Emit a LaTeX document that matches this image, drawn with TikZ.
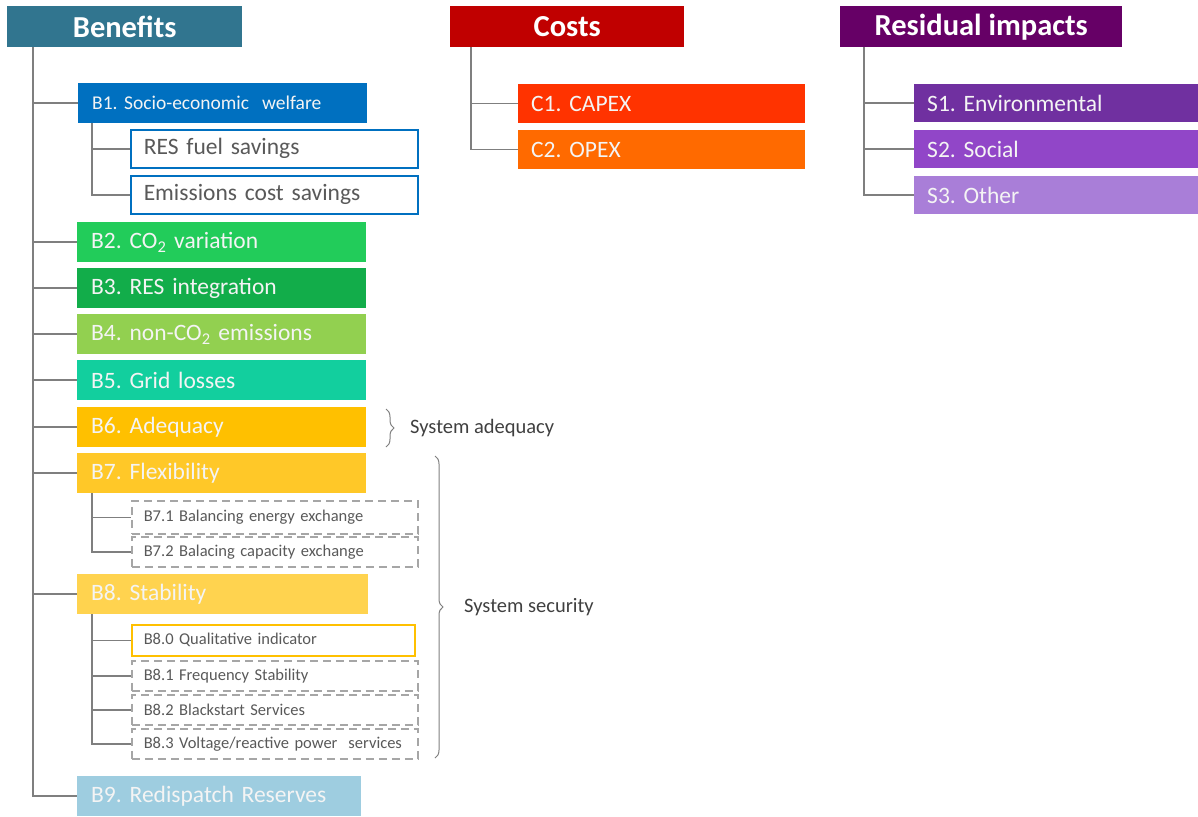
\documentclass[tikz,border=0pt]{standalone}
\usepackage{fontspec}
\setmainfont{Carlito}
\usetikzlibrary{decorations.pathreplacing}
\frenchspacing
\definecolor{hben}{HTML}{31758F}
\definecolor{hcost}{HTML}{C00000}
\definecolor{hres}{HTML}{660066}
\definecolor{cbone}{HTML}{0070C0}
\definecolor{cbtwo}{HTML}{22CC5A}
\definecolor{cbthree}{HTML}{12AD4A}
\definecolor{cbfour}{HTML}{92D050}
\definecolor{cbfive}{HTML}{12CF9E}
\definecolor{cbsix}{HTML}{FFC000}
\definecolor{cbseven}{HTML}{FFC828}
\definecolor{cbeight}{HTML}{FFD34F}
\definecolor{cbnine}{HTML}{9ECDE0}
\definecolor{ccone}{HTML}{FF3300}
\definecolor{cctwo}{HTML}{FF6A00}
\definecolor{csone}{HTML}{7030A0}
\definecolor{cstwo}{HTML}{9146C8}
\definecolor{csthree}{HTML}{A97ED8}
\definecolor{linegray}{HTML}{7F7F7F}
\definecolor{dashgray}{HTML}{A6A6A6}
\definecolor{txtgray}{HTML}{595959}
\definecolor{offwhite}{HTML}{F4F4F4}
\tikzset{
  hdr/.style={anchor=north west, inner sep=0pt, minimum height=41pt, text=white,
    font=\fontsize{30.5}{32}\selectfont\bfseries},
  cbox/.style={anchor=north west, inner xsep=14pt, inner ysep=0pt, minimum height=40pt,
    align=left, text=offwhite, font=\fontsize{23.5}{25}\selectfont},
  wbox/.style={anchor=north west, inner xsep=13pt, inner ysep=0pt, fill=white,
    align=left, line width=1.5pt, text=txtgray, font=\fontsize{23.5}{25}\selectfont},
  dbox/.style={anchor=north west, inner xsep=12pt, inner ysep=0pt, fill=white,
    align=left, draw=dashgray, line width=1.5pt, dash pattern=on 8pt off 5pt,
    text=txtgray, font=\fontsize{16.5}{18}\selectfont},
  tree/.style={draw=linegray, line width=1.5pt},
  brc/.style={draw=linegray, line width=1pt, decorate,
    decoration={brace, amplitude=8pt}},
  lbl/.style={anchor=west, inner sep=0pt, text=black!75, font=\fontsize{20.5}{22}\selectfont}
}
\begin{document}
\begin{tikzpicture}[x=1pt,y=-1pt]
\useasboundingbox (0,0) rectangle (1198,816);
% headers
\node[hdr, fill=hben, minimum width=235pt] (ben) at (7,6) {Benefits};
\node[hdr, fill=hcost, minimum width=234pt] (cost) at (450,6) {Costs};
\node[hdr, fill=hres, minimum width=282pt] (res) at (840,6) {Residual impacts};
% benefits
\node[cbox, fill=cbone, text width=261pt, font=\fontsize{19.5}{21}\selectfont] (b1) at (78,83) {B1. Socio-economic~ welfare};
\node[wbox, draw=cbone, text width=261pt, minimum height=38pt] (b1a) at (130,129) {RES fuel savings};
\node[wbox, draw=cbone, text width=261pt, minimum height=38pt] (b1b) at (130,175) {Emissions cost savings};
\node[cbox, fill=cbtwo, text width=261pt] (b2) at (77,222) {B2. CO\textsubscript{2} variation};
\node[cbox, fill=cbthree, text width=261pt] (b3) at (77,268) {B3. RES integration};
\node[cbox, fill=cbfour, text width=261pt] (b4) at (77,314) {B4. non-CO\textsubscript{2} emissions};
\node[cbox, fill=cbfive, text width=261pt] (b5) at (77,360) {B5. Grid losses};
\node[cbox, fill=cbsix, text width=261pt] (b6) at (77,407) {B6. Adequacy};
\node[cbox, fill=cbseven, text width=261pt] (b7) at (77,453) {B7. Flexibility};
\node[dbox, text width=262pt, minimum height=33pt] (b71) at (131,500) {B7.1 Balancing energy exchange};
\node[dbox, text width=262pt, minimum height=30pt] (b72) at (131,536) {B7.2 Balacing capacity exchange};
\node[cbox, fill=cbeight, text width=263pt] (b8) at (77,574) {B8. Stability};
\node[wbox, draw=cbsix, text width=259pt, minimum height=31pt, font=\fontsize{16.5}{18}\selectfont, inner xsep=12pt] (b80) at (131,624) {B8.0 Qualitative indicator};
\node[dbox, text width=262pt, minimum height=30pt] (b81) at (131,660) {B8.1 Frequency Stability};
\node[dbox, text width=262pt, minimum height=30pt] (b82) at (131,694) {B8.2 Blackstart Services};
\node[dbox, text width=262pt, minimum height=30pt] (b83) at (131,728) {B8.3 Voltage/reactive power~ services};
\node[cbox, fill=cbnine, text width=256pt] (b9) at (77,776) {B9. Redispatch Reserves};
% costs
\node[cbox, fill=ccone, inner xsep=13pt, text width=261pt, minimum height=39pt] (c1) at (518,84) {C1. CAPEX};
\node[cbox, fill=cctwo, inner xsep=13pt, text width=261pt, minimum height=39pt] (c2) at (518,130) {C2. OPEX};
% residual
\node[cbox, fill=csone, inner xsep=13pt, text width=260pt, minimum height=38pt] (s1) at (914,84) {S1. Environmental};
\node[cbox, fill=cstwo, inner xsep=13pt, text width=260pt, minimum height=38pt] (s2) at (914,130) {S2. Social};
\node[cbox, fill=csthree, inner xsep=13pt, text width=260pt, minimum height=38pt] (s3) at (914,176) {S3. Other};
% tree connectors
\coordinate (bt) at ([xshift=26pt]ben.south west);
\coordinate (ct) at ([xshift=21pt]cost.south west);
\coordinate (rt) at ([xshift=24pt]res.south west);
\coordinate (b1t) at ([xshift=14pt]b1.south west);
\coordinate (b7t) at ([xshift=15pt]b7.south west);
\coordinate (b8t) at ([xshift=15pt]b8.south west);
\foreach \n in {b1,b2,b3,b4,b5,b6,b7,b8,b9} \draw[tree] (bt) |- (\n.west);
\foreach \n in {b1a,b1b} \draw[tree] (b1t) |- (\n.west);
\foreach \n in {b71,b72} \draw[tree] (b7t) |- (\n.west);
\foreach \n in {b80,b81,b82,b83} \draw[tree] (b8t) |- (\n.west);
\foreach \n in {c1,c2} \draw[tree] (ct) |- (\n.west);
\foreach \n in {s1,s2,s3} \draw[tree] (rt) |- (\n.west);
% braces
\coordinate (adqa) at (386,409);
\coordinate (adqb) at (386,447);
\coordinate (seca) at (435,456);
\coordinate (secb) at (435,758);
\draw[brc] (adqa) -- (adqb) coordinate[pos=0.5] (adqm);
\draw[brc] (seca) -- (secb) coordinate[pos=0.5] (secm);
\node[lbl] (adq) at ([xshift=24pt]adqm) {System adequacy};
\node[lbl] (sec) at ([xshift=29pt]secm) {System security};
\end{tikzpicture}
\end{document}
